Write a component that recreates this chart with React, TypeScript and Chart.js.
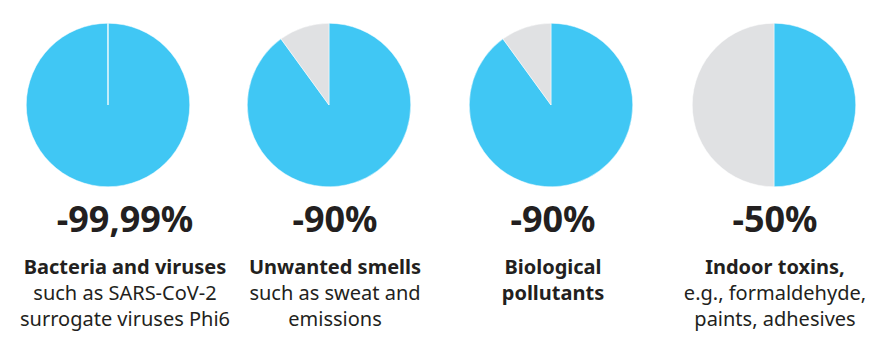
import React, { useEffect, useRef } from "react";
import { Chart, registerables } from "chart.js";

Chart.register(...registerables);

const categories = ["Bacteria and viruses", "Unwanted smells", "Biological pollutants", "Indoor toxins"];
const reducedShare = [99.99, 90, 90, 50];
const remainingShare = [0.01, 10, 10, 50];
const valueLabels = ["-99,99%", "-90%", "-90%", "-50%"];
const boldLines = [
  ["Bacteria and viruses"],
  ["Unwanted smells"],
  ["Biological", "pollutants"],
  ["Indoor toxins,"],
];
const normalLines = [
  ["such as SARS-CoV-2", "surrogate viruses Phi6"],
  ["such as sweat and", "emissions"],
  [],
  ["e.g., formaldehyde,", "paints, adhesives"],
];

const pieCenters = [108, 329, 551, 773.5];
const textCenters = [125, 335, 553, 775];
const BLUE = "#40C7F4";
const GREY = "#E0E1E3";
const FONT = "'Noto Sans', sans-serif";
const SIZE = 164;

function Pie({ index }: { index: number }) {
  const ref = useRef<HTMLCanvasElement>(null);
  useEffect(() => {
    if (!ref.current) return;
    const chart = new Chart(ref.current, {
      type: "pie",
      data: {
        labels: ["Reduced", "Remaining"],
        datasets: [
          {
            data: [reducedShare[index], remainingShare[index]],
            backgroundColor: [BLUE, GREY],
            borderColor: "#ffffff",
            borderWidth: 0.5,
          },
        ],
      },
      options: {
        responsive: false,
        animation: false,
        layout: { padding: 0 },
        plugins: { legend: { display: false }, tooltip: { enabled: false } },
      },
    });
    return () => chart.destroy();
  }, [index]);
  return (
    <canvas
      ref={ref}
      width={SIZE}
      height={SIZE}
      style={{
        position: "absolute",
        left: pieCenters[index] - SIZE / 2,
        top: 105 - SIZE / 2,
        width: SIZE,
        height: SIZE,
      }}
      aria-label={categories[index]}
    />
  );
}

export default function App() {
  return (
    <div
      style={{
        position: "fixed",
        left: 0,
        top: 0,
        width: 887,
        height: 349,
        background: "#ffffff",
        overflow: "hidden",
        fontFamily: FONT,
        color: "#231F20",
      }}
    >
      {categories.map((c, i) => (
        <React.Fragment key={c}>
          <Pie index={i} />
          <div
            style={{
              position: "absolute",
              left: textCenters[i] - 130,
              width: 260,
              top: 199,
              textAlign: "center",
              fontSize: 36,
              fontWeight: 700,
              lineHeight: "40px",
              whiteSpace: "nowrap",
            }}
          >
            {valueLabels[i]}
          </div>
          <div
            style={{
              position: "absolute",
              left: textCenters[i] - 130,
              width: 260,
              top: 254,
              textAlign: "center",
              fontSize: 20,
              lineHeight: "26px",
              whiteSpace: "nowrap",
            }}
          >
            {boldLines[i].map((l) => (
              <div key={l} style={{ fontWeight: 700 }}>
                {l}
              </div>
            ))}
            {normalLines[i].map((l) => (
              <div key={l} style={{ fontWeight: 400 }}>
                {l}
              </div>
            ))}
          </div>
        </React.Fragment>
      ))}
    </div>
  );
}
